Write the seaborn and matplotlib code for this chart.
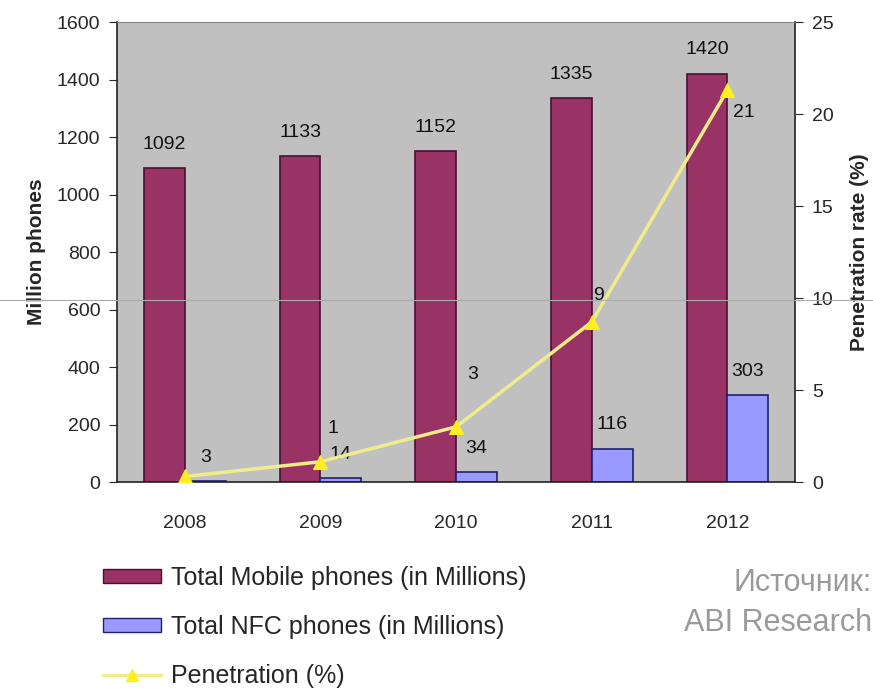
import numpy as np
import pandas as pd
import matplotlib
matplotlib.use("Agg")
import matplotlib.pyplot as plt
from matplotlib.patches import Patch
from matplotlib.lines import Line2D
import seaborn as sns

# data
years = ['2008', '2009', '2010', '2011', '2012']
mobile_phones = [1092, 1133, 1152, 1335, 1420]
nfc_phones = [3, 14, 34, 116, 303]
penetration = [0.3, 1.1, 3.0, 8.7, 21.3]
pen_labels = ['', '1', '3', '9', '21']
series_names = ['Total Mobile phones (in Millions)', 'Total NFC phones (in Millions)']
line_name = 'Penetration (%)'

sns.set_style('white')
plt.rcParams['font.family'] = ['Liberation Sans', 'DejaVu Sans']

maroon, maroon_edge = '#993366', '#4a1030'
blue, blue_edge = '#9999ff', '#202070'
yellow_line, yellow_mark = '#f0ec8a', '#ffee22'

df = pd.DataFrame({
    'Year': years * 2,
    'Phones': mobile_phones + nfc_phones,
    'Series': [series_names[0]] * len(years) + [series_names[1]] * len(years),
})

fig = plt.figure(figsize=(8.73, 6.88), dpi=100)
ax = fig.add_axes([0.134, 0.2994, 0.777, 0.6686])
ax.set_facecolor('#c0c0c0')

sns.barplot(data=df, x='Year', y='Phones', hue='Series', palette=[maroon, blue],
            width=0.6, ax=ax, legend=False, linewidth=1.2, saturation=1)

n = len(years)
for i, p in enumerate(ax.patches):
    p.set_edgecolor(maroon_edge if i < n else blue_edge)

ax.set_xlim(-0.5, n - 0.5)
ax.set_ylim(0, 1600)
ax.set_yticks(range(0, 1601, 200))
ax.set_xticks(np.arange(-0.5, n, 1), minor=True)
ax.tick_params(axis='x', which='major', length=0, labelsize=14, pad=24)
ax.tick_params(axis='x', which='minor', length=6, direction='out', width=1)
ax.tick_params(axis='y', length=6, direction='out', labelsize=14, pad=6, left=True)
ax.set_xlabel('')
ax.set_ylabel('Million phones', fontsize=15, fontweight='bold', labelpad=8)

for s in ['left', 'bottom', 'right']:
    ax.spines[s].set_color('#222222')
    ax.spines[s].set_linewidth(1.2)
ax.spines['top'].set_color('#888888')

# data labels on bars
for p in ax.patches:
    h = p.get_height()
    ax.annotate(f'{h:.0f}', (p.get_x() + p.get_width() / 2, h),
                xytext=(0, 11), textcoords='offset points',
                ha='center', va='bottom', fontsize=14, color='#111111')

ax2 = ax.twinx()
sns.lineplot(x=np.arange(n), y=penetration, ax=ax2, color=yellow_line,
             linewidth=2.5, marker='^', markersize=10, markerfacecolor=yellow_mark,
             markeredgecolor=yellow_mark)
ax2.set_ylim(0, 25)
ax2.set_yticks(range(0, 26, 5))
ax2.tick_params(axis='y', length=6, direction='out', labelsize=14, pad=6, right=True)
ax2.set_ylabel('Penetration rate (%)', fontsize=15, fontweight='bold', labelpad=12)
ax2.yaxis.set_label_position('right')
ax2.grid(False)
for s in ax2.spines.values():
    s.set_visible(False)

pen_offsets = [(8, 6), (5, 24), (8, 38), (1, 19), (4, -16)]
for i, (v, lab) in enumerate(zip(penetration, pen_labels)):
    if lab:
        ax2.annotate(lab, (i, v), xytext=pen_offsets[i], textcoords='offset points',
                     ha='left', va='center', fontsize=14, color='#111111')

handles = [
    Patch(facecolor=maroon, edgecolor=maroon_edge, label=series_names[0]),
    Patch(facecolor=blue, edgecolor=blue_edge, label=series_names[1]),
    Line2D([0], [0], color=yellow_line, lw=2.5, marker='^', markersize=8,
           markerfacecolor=yellow_mark, markeredgecolor=yellow_mark, label=line_name),
]
fig.legend(handles=handles, loc='upper left', bbox_to_anchor=(0.118, 0.178),
           frameon=False, fontsize=18, handlelength=2.3, handleheight=0.5,
           handletextpad=0.4, labelspacing=1.0, borderpad=0, borderaxespad=0)

fig.text(0.999, 0.153, 'Источник:', ha='right', va='center', fontsize=22, color='#9a9a9a')
fig.text(0.999, 0.094, 'ABI Research', ha='right', va='center', fontsize=22, color='#9a9a9a')

# thin scan line crossing the picture
fig.add_artist(Line2D([0, 1], [0.564, 0.564], transform=fig.transFigure,
                      color='#aaaaaa', lw=0.8))

fig.savefig('out.png', dpi=100)
